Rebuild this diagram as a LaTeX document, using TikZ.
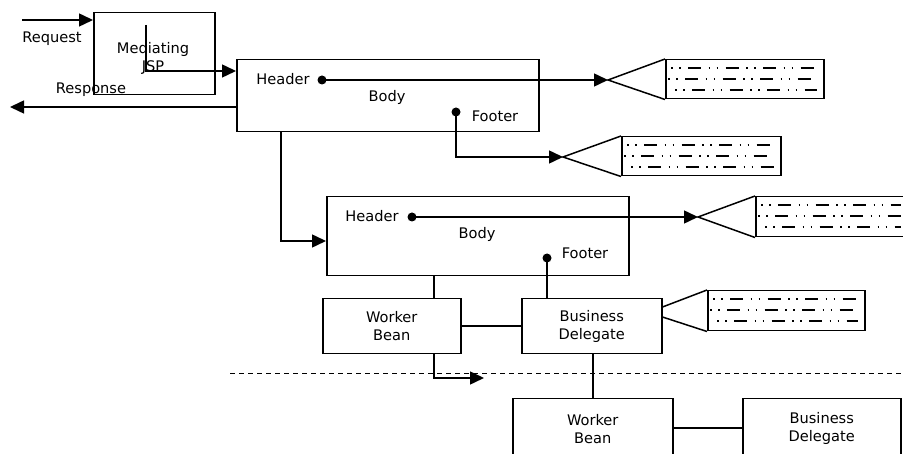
\documentclass[tikz,border=0pt]{standalone}
\usepackage{fontspec}
\setmainfont{DejaVu Sans}
\usetikzlibrary{arrows.meta}

% three rows of placeholder "text" inside a callout box
\newcommand\noterows[1]{%
  \foreach \dy/\ph in {9/17.5, 20/20.5, 31/13.5}
    \draw[textline, dash phase=\ph pt]
      ([xshift=3pt, yshift=-\dy pt]#1.north west) --
      ([xshift=-8pt, yshift=-\dy pt]#1.north east);}

\tikzset{
  wire/.style={line width=1.5pt},
  arr/.style={wire, -{Triangle[length=14pt, width=13pt]}},
  box/.style={draw, line width=1.5pt, fill=white, inner sep=0pt,
              align=center, anchor=north west},
  note/.style={box, minimum height=39pt},
  lbl/.style={inner sep=0pt, align=center},
  pin/.style={circle, fill=black, inner sep=0pt, minimum size=9pt},
  textline/.style={line width=1.5pt,
    dash pattern=on 13pt off 7.5pt on 1.5pt off 6.5pt on 1.5pt off 7.5pt},
  divider/.style={line width=1pt, dash pattern=on 5pt off 4pt}
}

\begin{document}
\begin{tikzpicture}[x=1pt, y=-1pt, font=\fontsize{14.6}{18}\selectfont]
\useasboundingbox (0,0) rectangle (903,454);
\clip (0,0) rectangle (903,454);

% ---- boxes ----
\node[box, minimum width=121pt, minimum height=82pt] (jsp) at (93,12) {};
\node[box, minimum width=302pt, minimum height=72pt] (m1) at (236,59) {};
\node[box, minimum width=302pt, minimum height=79pt] (m2) at (326,196) {};
\node[box, minimum width=138pt, minimum height=55pt] (wb1) at (322,298) {Worker\\Bean};
\node[box, minimum width=140pt, minimum height=55pt] (bd1) at (521,298) {Business\\Delegate};
\node[box, minimum width=160pt, minimum height=60pt] (wb2) at (512,398) {Worker\\Bean};
\node[box, minimum width=158pt, minimum height=60pt] (bd2) at (742,398) {Business\\Delegate};

% ---- callouts ----
\node[note, minimum width=158pt] (c1) at (665,59) {};
\node[note, minimum width=159pt] (c2) at (621,136) {};
\node[note, minimum width=152pt, minimum height=40pt] (c3) at (755,196) {};
\node[note, minimum width=157pt, minimum height=40pt] (c4) at (707,290) {};
\noterows{c1}
\noterows{c2}
\noterows{c3}
\noterows{c4}

\coordinate (t1) at (608,80);
\coordinate (t2) at (563,157);
\coordinate (t3) at (698,217);
\draw[wire] (c1.north west) -- (t1) -- (c1.south west);
\draw[wire] (c2.north west) -- (t2) -- (c2.south west);
\draw[wire] (c3.north west) -- (t3) -- (c3.south west);
\coordinate (e4a) at (0,307);
\coordinate (e4b) at (0,317);
\draw[wire] (bd1.east |- e4a) -- (c4.north west);
\draw[wire] (bd1.east |- e4b) -- (c4.south west);

% ---- labels ----
\node[lbl] (req) at (52,39) {Request};
\node[lbl] (resp) at (91,90) {Response};
\node[lbl] (jspt) at (153,58.5) {Mediating\\JSP};
\node[lbl] (h1) at (283,79) {Header};
\node[lbl] (b1) at (387,97) {Body};
\node[lbl] (f1) at (495,116) {Footer};
\node[lbl] (h2) at (372,216) {Header};
\node[lbl] (b2) at (477,234) {Body};
\node[lbl] (f2) at (585,253) {Footer};

% ---- connection points ----
\coordinate (hd1) at (322,80);
\coordinate (ft1) at (456,112);
\coordinate (hd2) at (412,217);
\coordinate (ft2) at (547,258);

% ---- connectors ----
\coordinate (rq) at (22,20);
\draw[arr] (rq) -- (jsp.west |- rq);
\coordinate (js) at (146,25);
\coordinate (jt) at (146,71);
\draw[arr] (js) -- (jt) -- (m1.west |- jt);
\coordinate (rs) at (10,107);
\draw[arr] (m1.west |- rs) -- (rs);

\draw[arr] (hd1) -- (t1);
\draw[arr] (ft1) |- (t2);
\draw[arr] (hd2) -- (t3);

\coordinate (k1) at (281,241);
\draw[arr] (m1.south -| k1) |- (m2.west |- k1);

\coordinate (k2) at (434,0);
\draw[wire] (m2.south -| k2) -- (wb1.north -| k2);
\draw[wire] (ft2) -- (bd1.north -| ft2);
\coordinate (k3) at (0,326);
\draw[wire] (wb1.east |- k3) -- (bd1.west |- k3);

\coordinate (dl) at (230,374);
\coordinate (dr) at (903,374);
\draw[divider] (dl) -- (dr);

\coordinate (k4) at (484,378);
\draw[arr] (wb1.south -| k2) |- (k4);

\coordinate (k5) at (593,0);
\draw[wire] (bd1.south -| k5) -- (wb2.north -| k5);
\coordinate (k6) at (0,428);
\draw[wire] (wb2.east |- k6) -- (bd2.west |- k6);

% ---- pins ----
\node[pin] (p1) at (hd1) {};
\node[pin] (p2) at (ft1) {};
\node[pin] (p3) at (hd2) {};
\node[pin] (p4) at (ft2) {};
\end{tikzpicture}
\end{document}
